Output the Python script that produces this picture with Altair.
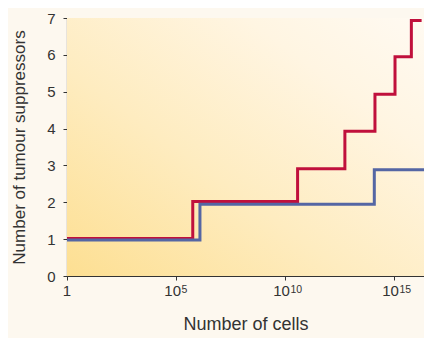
import altair as alt
import pandas as pd

# Red series (step positions as log10 of number of cells, values)
red_log_x = [0, 5.77, 10.58, 12.75, 14.13, 15.05, 15.8, 16.27]
red_y = [1.02, 2.02, 2.91, 3.93, 4.93, 5.95, 6.93, 6.93]

# Blue series
blue_log_x = [0, 6.1, 14.1, 16.38]
blue_y = [0.98, 1.95, 2.88, 2.88]

tick_values = [1, 1e5, 1e10, 1e15]
tick_base = ["1", "10", "10", "10"]
tick_exp = ["", "5", "10", "15"]
x_max_log = 16.38

W, H = 357, 258

rows = []
for lx, y in zip(red_log_x, red_y):
    rows.append({"cells": 10 ** lx, "n": y, "series": "red"})
for lx, y in zip(blue_log_x, blue_y):
    rows.append({"cells": 10 ** lx, "n": y, "series": "blue"})
df = pd.DataFrame(rows)

ticks_df = pd.DataFrame({"v": tick_values, "base": tick_base, "exp": tick_exp})

bg = alt.Chart(pd.DataFrame({"a": [0]})).mark_rect(
    fill=alt.Gradient(
        gradient="linear",
        stops=[
            alt.GradientStop(color="#fddf92", offset=0),
            alt.GradientStop(color="#feecc0", offset=0.4),
            alt.GradientStop(color="#fff5e2", offset=0.75),
            alt.GradientStop(color="#fffaf2", offset=1),
        ],
        x1=0, y1=1, x2=1, y2=0,
    )
).encode(x=alt.value(0), x2=alt.value(W), y=alt.value(0), y2=alt.value(H))

xscale = alt.Scale(type="log", domain=[1, 10 ** x_max_log], nice=False)
yscale = alt.Scale(domain=[0, 7], nice=False)

lines = alt.Chart(df).mark_line(interpolate="step-after", strokeWidth=3, clip=True).encode(
    x=alt.X("cells:Q", scale=xscale,
            axis=alt.Axis(values=tick_values, labels=False, title="Number of cells",
                          grid=False, titlePadding=35, titleFontSize=18)),
    y=alt.Y("n:Q", scale=yscale,
            axis=alt.Axis(values=list(range(8)), title="Number of tumour suppressors",
                          grid=False, titlePadding=18, labelPadding=8, titleFontSize=17)),
    color=alt.Color("series:N",
                    scale=alt.Scale(domain=["red", "blue"], range=["#c0103c", "#5466a4"]),
                    legend=None),
    order=alt.Order("cells:Q"),
)

txt_font = "Liberation Sans"
base = alt.Chart(ticks_df)
one_lbl = base.transform_filter("datum.exp == ''").mark_text(
    align="center", baseline="alphabetic", fontSize=15, font=txt_font, color="#333333"
).encode(x=alt.X("v:Q", scale=xscale), y=alt.value(H + 20), text="base:N")
ten_lbl = base.transform_filter("datum.exp != ''").mark_text(
    align="right", baseline="alphabetic", fontSize=15, font=txt_font, color="#333333", dx=5
).encode(x=alt.X("v:Q", scale=xscale), y=alt.value(H + 20), text="base:N")
exp_lbl = base.transform_filter("datum.exp != ''").mark_text(
    align="left", baseline="alphabetic", fontSize=10.5, font=txt_font, color="#333333", dx=5.5
).encode(x=alt.X("v:Q", scale=xscale), y=alt.value(H + 16.5), text="exp:N")

chart = alt.layer(bg, lines, one_lbl, ten_lbl, exp_lbl).properties(
    width=W, height=H,
    autosize=alt.AutoSizeParams(type="none"),
    padding={"left": 59, "top": 10, "right": 0, "bottom": 62},
    background="#fdf8ef",
).configure_view(stroke=None).configure_axis(
    labelFont=txt_font, titleFont=txt_font,
    labelFontSize=15, labelColor="#333333", titleColor="#333333",
    titleFontWeight="normal", domainColor="#333333", tickColor="#333333",
    tickSize=4, domainWidth=1.2,
)

chart.save("out.html", embed_options={"renderer": "svg", "actions": False})
